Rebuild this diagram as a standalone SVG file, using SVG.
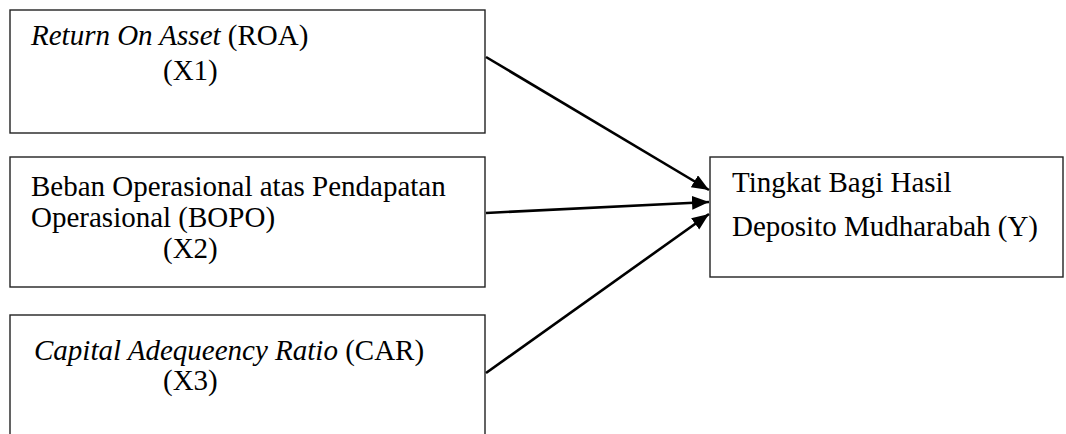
<svg xmlns="http://www.w3.org/2000/svg" width="1066" height="434" viewBox="0 0 1066 434">
<style>
.box{fill:#fff;stroke:#222;stroke-width:1.4}
.t{font-family:"Liberation Serif","Times New Roman",serif;font-size:29px;fill:#000}
.i{font-style:italic}
.c{stroke:#000;stroke-width:2.6;fill:none}
</style>
<defs>
<marker id="ah" markerUnits="userSpaceOnUse" markerWidth="20" markerHeight="16" refX="17" refY="7" orient="auto">
<path d="M0,0 L17,7 L0,14 z" fill="#000"/>
</marker>
</defs>
<rect width="1066" height="434" fill="#fff"/>
<g id="x1">
<rect class="box" x="10" y="10" width="475" height="123"/>
<text class="t" x="31" y="45"><tspan class="i">Return On Asset</tspan> (ROA)</text>
<text class="t" x="163" y="80">(X1)</text>
</g>
<g id="x2">
<rect class="box" x="10" y="157" width="475" height="130"/>
<text class="t" x="31" y="196">Beban Operasional atas Pendapatan</text>
<text class="t" x="31" y="227">Operasional (BOPO)</text>
<text class="t" x="163" y="258">(X2)</text>
</g>
<g id="x3">
<rect class="box" x="10" y="315" width="475" height="130"/>
<text class="t" x="34" y="360"><tspan class="i">Capital Adequeency Ratio</tspan> (CAR)</text>
<text class="t" x="163" y="390">(X3)</text>
</g>
<g id="y">
<rect class="box" x="710" y="157" width="353" height="120"/>
<text class="t" x="732" y="192">Tingkat Bagi Hasil</text>
<text class="t" x="732" y="236">Deposito Mudharabah (Y)</text>
</g>
<g id="connectors">
<line class="c" x1="486" y1="57" x2="709" y2="190" marker-end="url(#ah)"/>
<line class="c" x1="486" y1="213" x2="709" y2="202" marker-end="url(#ah)"/>
<line class="c" x1="486" y1="373" x2="709" y2="214" marker-end="url(#ah)"/>
</g>
</svg>
